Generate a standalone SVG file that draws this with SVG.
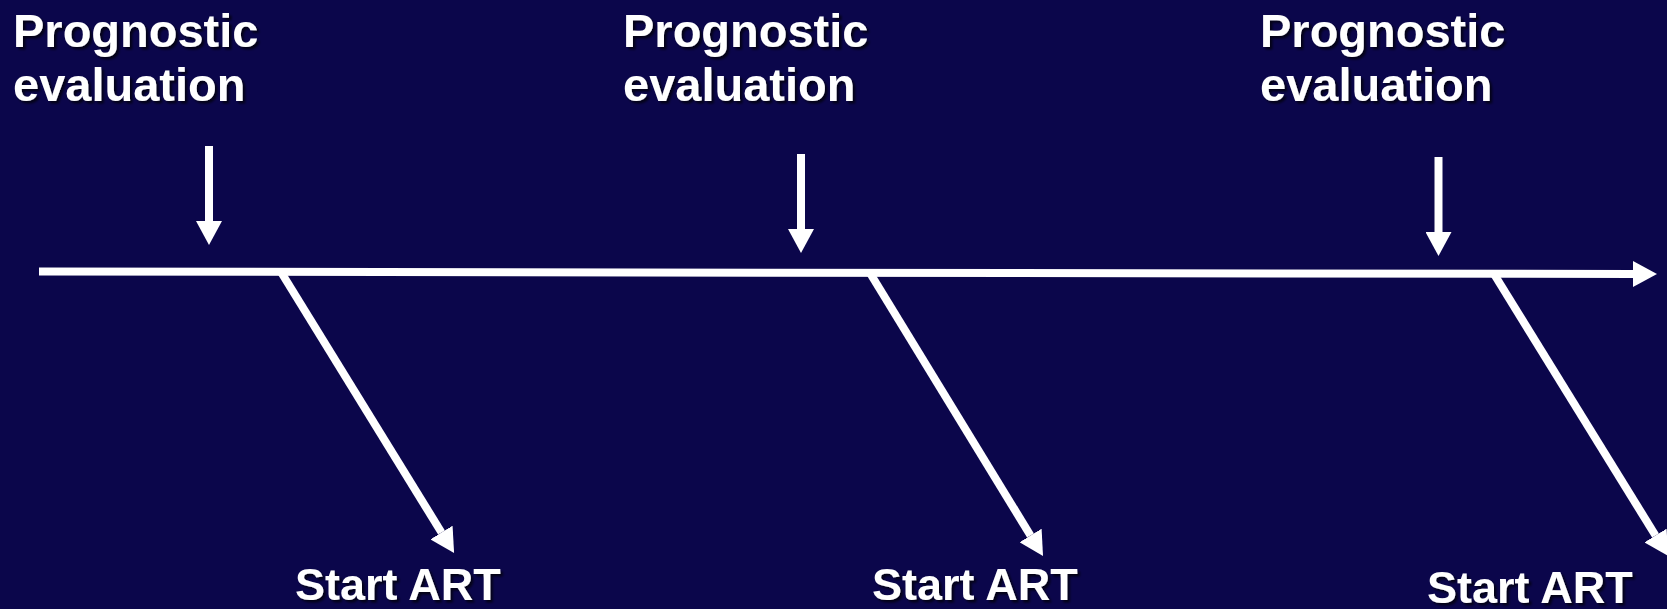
<svg xmlns="http://www.w3.org/2000/svg" width="1667" height="609" viewBox="0 0 1667 609">
<style>
.lbl{font-family:"Liberation Sans",Arial,sans-serif;font-weight:bold;fill:#ffffff;filter:url(#sh)}
.big{font-size:47px}
.sa{font-size:45px}
.ln{stroke:#ffffff;stroke-width:8;fill:none}
</style>
<defs>
<filter id="sh" x="-10%" y="-20%" width="130%" height="150%">
<feDropShadow dx="2.5" dy="2.5" stdDeviation="1" flood-color="#000000" flood-opacity="0.7"/>
</filter>
<marker id="ah" markerUnits="userSpaceOnUse" markerWidth="25" markerHeight="26" refX="0" refY="13" orient="auto" viewBox="0 0 25 26">
<path d="M0,0 L24,13 L0,26 Z" fill="#ffffff"/>
</marker>
</defs>
<rect width="1667" height="609" fill="#0b064b"/>
<g id="connectors">
<line class="ln" x1="39" y1="271.5" x2="1633" y2="274" marker-end="url(#ah)"/>
<line class="ln" x1="209" y1="146" x2="209" y2="221" marker-end="url(#ah)"/>
<line class="ln" x1="801" y1="154" x2="801" y2="229" marker-end="url(#ah)"/>
<line class="ln" x1="1438.5" y1="157" x2="1438.5" y2="232" marker-end="url(#ah)"/>
<line class="ln" x1="281" y1="272" x2="441.5" y2="532.5" marker-end="url(#ah)"/>
<line class="ln" x1="870" y1="273" x2="1030.5" y2="535.5" marker-end="url(#ah)"/>
<line class="ln" x1="1494" y1="274" x2="1655.5" y2="535.5" marker-end="url(#ah)"/>
</g>
<g id="eval1"><text class="lbl big" x="13" y="47">Prognostic</text><text class="lbl big" x="13" y="101">evaluation</text></g>
<g id="eval2"><text class="lbl big" x="623" y="47">Prognostic</text><text class="lbl big" x="623" y="101">evaluation</text></g>
<g id="eval3"><text class="lbl big" x="1260" y="47">Prognostic</text><text class="lbl big" x="1260" y="101">evaluation</text></g>
<g id="art1"><text class="lbl sa" x="295" y="600">Start ART</text></g>
<g id="art2"><text class="lbl sa" x="872" y="600">Start ART</text></g>
<g id="art3"><text class="lbl sa" x="1427" y="603">Start ART</text></g>
</svg>
